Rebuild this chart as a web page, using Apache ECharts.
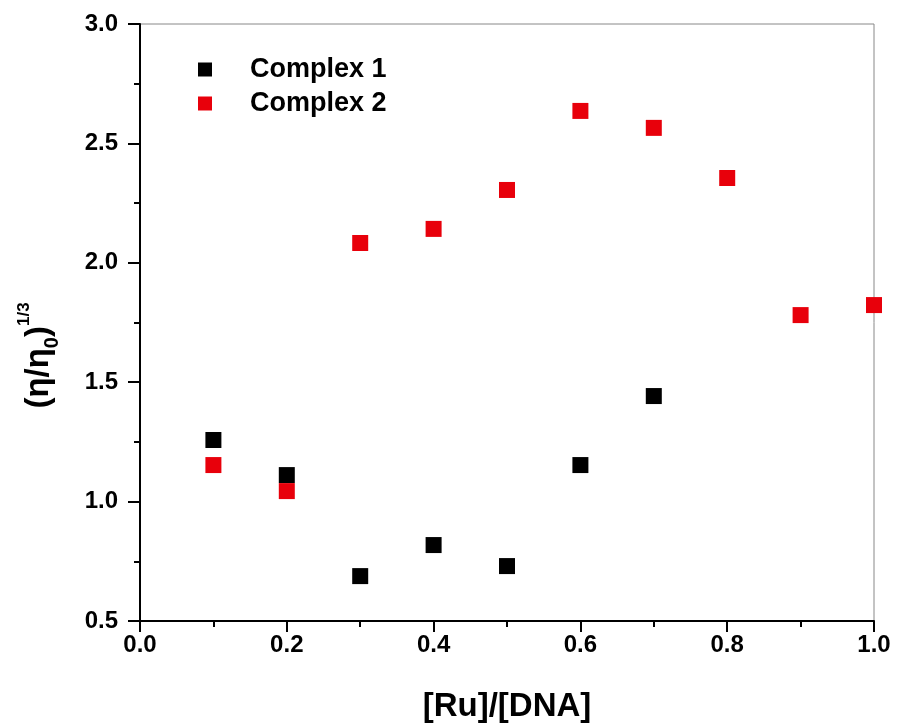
<!DOCTYPE html>
<html>
<head>
<meta charset="utf-8">
<script src="https://cdn.jsdelivr.net/npm/echarts@6/dist/echarts.min.js"></script>
<style>html,body{margin:0;padding:0;background:#fff}#c{width:897px;height:728px}</style>
</head>
<body>
<div id="c"></div>
<script>
var xValues1 = [0.1, 0.2, 0.3, 0.4, 0.5, 0.6, 0.7];
var complex1 = [1.258, 1.111, 0.688, 0.818, 0.730, 1.153, 1.442];
var xValues2 = [0.1, 0.2, 0.3, 0.4, 0.5, 0.6, 0.7, 0.8, 0.9, 1.0];
var complex2 = [1.153, 1.044, 2.083, 2.142, 2.305, 2.636, 2.565, 2.355, 1.781, 1.823];
var seriesNames = ['Complex 1', 'Complex 2'];

function pairs(xs, ys) { return xs.map(function (x, i) { return [x, ys[i]]; }); }

var FONT = '"Liberation Sans", Arial, sans-serif';
var chart = echarts.init(document.getElementById('c'));
chart.setOption({
  animation: false,
  backgroundColor: '#fff',
  grid: { left: 140, top: 24, right: 23, bottom: 107, show: true, borderColor: '#888', borderWidth: 1 },
  legend: {
    orient: 'vertical', left: 193, top: 51, itemWidth: 14, itemHeight: 14, itemGap: 7,
    icon: 'rect',
    textStyle: { fontFamily: FONT, fontWeight: 'bold', fontSize: 27, color: '#000', padding: [0, 0, 0, 33] },
    data: seriesNames
  },
  xAxis: {
    type: 'value', min: 0, max: 1, interval: 0.2,
    name: '[Ru]/[DNA]', nameLocation: 'middle', nameGap: 69,
    nameTextStyle: { fontFamily: FONT, fontWeight: 'bold', fontSize: 33, color: '#000' },
    axisLine: { lineStyle: { color: '#000', width: 2 } },
    axisTick: { show: true, length: 11, lineStyle: { color: '#000', width: 2 } },
    minorTick: { show: true, splitNumber: 2, length: 6, lineStyle: { color: '#000', width: 2 } },
    splitLine: { show: false },
    axisLabel: { fontFamily: FONT, fontWeight: 'bold', fontSize: 24, color: '#000', margin: 12,
      formatter: function (v) { return v.toFixed(1); } }
  },
  yAxis: {
    type: 'value', min: 0.5, max: 3.0, interval: 0.5,
    name: '(η/η{sub|0}){sup|1/3}', nameLocation: 'middle', nameGap: 78,
    nameTextStyle: {
      fontFamily: FONT, fontWeight: 'bold', fontSize: 33, color: '#000', lineHeight: 46,
      padding: [0, 66, 0, 0],
      rich: {
        sub: { fontFamily: FONT, fontWeight: 'bold', fontSize: 20, color: '#000', verticalAlign: 'bottom', lineHeight: 46 },
        sup: { fontFamily: FONT, fontWeight: 'bold', fontSize: 17, color: '#000', verticalAlign: 'top', lineHeight: 46 }
      }
    },
    axisLine: { lineStyle: { color: '#000', width: 2 } },
    axisTick: { show: true, length: 12, lineStyle: { color: '#000', width: 2 } },
    minorTick: { show: true, splitNumber: 2, length: 6, lineStyle: { color: '#000', width: 2 } },
    splitLine: { show: false },
    axisLabel: { fontFamily: FONT, fontWeight: 'bold', fontSize: 24, color: '#000', margin: 22,
      formatter: function (v) { return v.toFixed(1); } }
  },
  series: [
    { name: seriesNames[0], type: 'scatter', symbol: 'rect', symbolSize: 16,
      itemStyle: { color: '#000', opacity: 1 }, data: pairs(xValues1, complex1) },
    { name: seriesNames[1], type: 'scatter', symbol: 'rect', symbolSize: 16,
      itemStyle: { color: '#e8000b', opacity: 1 }, data: pairs(xValues2, complex2) }
  ]
});
</script>
</body>
</html>
